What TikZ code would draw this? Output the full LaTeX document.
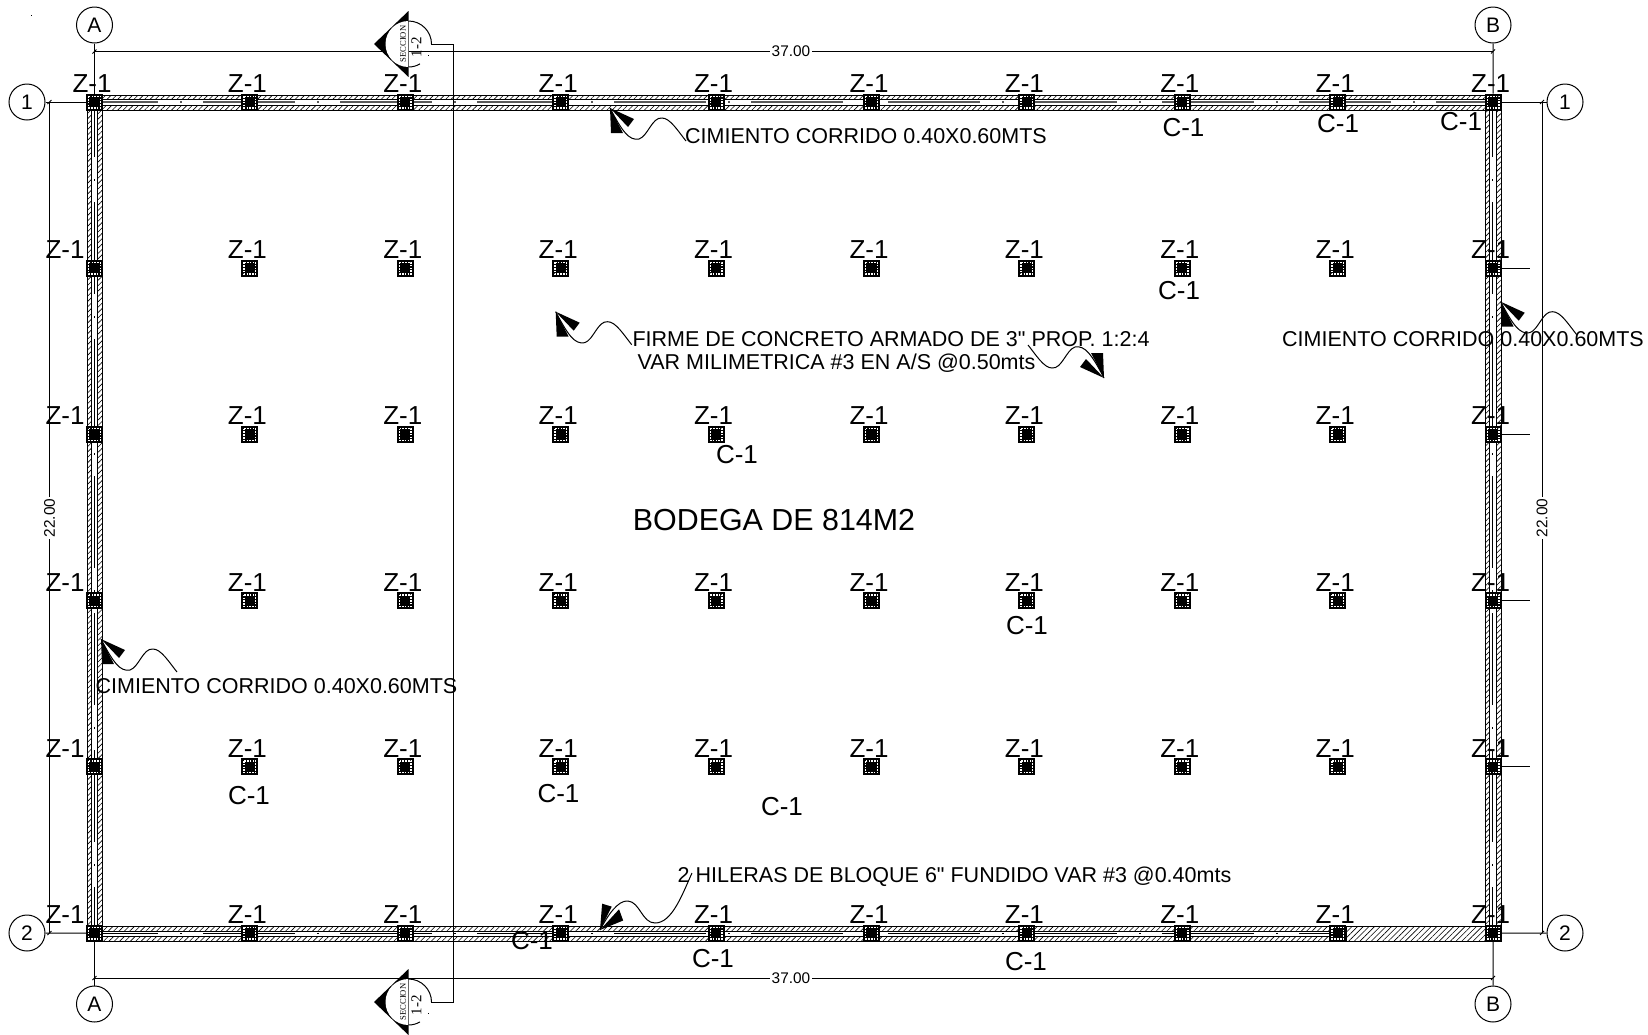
\documentclass[tikz,border=0pt]{standalone}
\usepackage{fontspec}
\setmainfont[Ligatures=TeXOff]{Liberation Sans}
\newfontfamily\seccfont{Liberation Serif}
\usetikzlibrary{patterns.meta}
\tikzset{
    thinline/.style={line width=0.5pt},
    hatchband/.style={draw=black,line width=0.5pt,pattern={Lines[angle=45,distance=1.9pt,line width=0.3pt]}},
    walldash/.style={line width=0.8pt,black!65,dash pattern=on 46pt off 11pt on 1pt off 10.5pt,dash phase=18.5pt},
    zapata/.style={draw=black,fill=black,line width=0.7pt,minimum size=7.8pt,inner sep=0pt},
    zring/.style={white,line width=0.7pt,dash pattern=on 0.8pt off 0.6pt},
    grideje/.style={circle,draw=black,line width=0.5pt,fill=white,minimum size=18pt,inner sep=0pt,font=\fontsize{10.5}{12}\selectfont},
    cotatext/.style={fill=white,inner sep=1pt,font=\fontsize{7.7}{9}\selectfont},
    zlabel/.style={inner sep=0pt,font=\fontsize{13}{15}\selectfont},
    notatext/.style={inner sep=0pt,font=\fontsize{10.75}{12}\selectfont}
}
% cabeza de flecha de nota
\newcommand{\notahead}[3]{
    \begin{scope}[shift={(#1,#2)},rotate=#3]
        \fill (0,0) -- (24,11) -- (18,19) -- cycle;
        \fill (0,0) -- (1,25) -- (13,25) -- cycle;
    \end{scope}
}
% flecha con onda: punta en (#1,#2), girada #3
\newcommand{\notaflecha}[3]{
    \notahead{#1}{#2}{#3}
    \begin{scope}[shift={(#1,#2)},rotate=#3]
        \draw[thinline] (0,0) .. controls (12,23) and (19,33) .. (29,31) .. controls (38,28) and (42,9) .. (52,10) .. controls (60,10) and (68,23) .. (76,33);
    \end{scope}
}
% marca de seccion: centro en (#1,#2)
\newcommand{\seccmark}[2]{
    \fill (#1-34.5,#2) -- (#1,#2-33) -- (#1,#2+33) -- cycle;
    \fill[white] (#1,#2-23) arc (-90:-270:23) -- cycle;
    \draw[thinline,black!60] (#1,#2-23) -- (#1,#2+23);
    \draw[thinline] (#1,#2-23) arc (-90:0:23);
    \draw[thinline] (#1,#2+23) arc (90:60:23);
    \node[rotate=90,inner sep=0pt,font=\seccfont\fontsize{4.3}{5}\selectfont] (secc#2) at (#1-5.5,#2) {SECCION};
    \node[rotate=90,inner sep=0pt,font=\seccfont\fontsize{7.5}{9}\selectfont] (num#2) at (#1+8,#2+3) {1-2};
    \fill (#1+19.5,#2+10.5) rectangle +(1,1);
}

\begin{document}
\begin{tikzpicture}[x=0.5pt,y=-0.5pt]
    \useasboundingbox (0,0) rectangle (1648,1034);

    % Muros
    \draw[hatchband] (87,95) rectangle (1501,99.5);
    \draw[hatchband] (87,105.5) rectangle (1501,110);
    \draw[hatchband] (87,926) rectangle (1346,931);
    \draw[hatchband] (87,936) rectangle (1346,941);
    \draw[draw=black,line width=0.5pt,pattern={Lines[angle=45,distance=2pt,line width=0.3pt]}] (1346,926) rectangle (1485,941);
    \draw[hatchband] (87,95) rectangle (91.5,941);
    \draw[hatchband] (97.5,110) rectangle (102,926);
    \draw[hatchband] (1485,110) rectangle (1489.5,926);
    \draw[hatchband] (1496.5,95) rectangle (1501,941);
    \draw[walldash] (103,102) -- (1485,102);
    \draw[walldash,black,line width=0.5pt] (103,933) -- (1346,933);
    \draw[walldash,black,line width=0.5pt] (94.5,102) -- (94.5,926);
    \draw[walldash,black,line width=0.5pt] (1492.5,102) -- (1492.5,926);

    % Ejes
    \node[grideje] (ejeA) at (94.5,25) {A};
    \node[grideje] (ejeB) at (1493,25) {B};
    \node[grideje] (ejeAb) at (94.5,1004) {A};
    \node[grideje] (ejeBb) at (1493,1004) {B};
    \node[grideje] (eje1) at (27,102) {1};
    \node[grideje] (eje2) at (27,933) {2};
    \node[grideje] (eje1b) at (1565,102) {1};
    \node[grideje] (eje2b) at (1565,933) {2};

    % Zapatas
    \foreach \j in {0,...,5} {
        \foreach \i in {0,...,9} {
            \pgfmathsetmacro{\cx}{94.5+155.4*\i}
            \pgfmathsetmacro{\cy}{102+166.2*\j}
            \pgfmathsetmacro{\lx}{\i==0 ? (\j==0 ? 92 : 65) : \cx-2.5}
            \node[zapata] (z\i\j) at (\cx,\cy) {};
            \draw[zring] (\cx-5.8,\cy-5.8) rectangle (\cx+5.8,\cy+5.8);
            \node[zlabel] (zl\i\j) at (\lx,\cy-18.5) {Z-1};
        }
    }

    % Cotas
    \draw[thinline] (ejeA) -- (z00);
    \draw[thinline] (ejeB) -- (z90);
    \draw[thinline] (ejeAb) -- (z05);
    \draw[thinline] (ejeBb) -- (z95);
    \draw[thinline] (eje1) -- (z00);
    \draw[thinline] (eje2) -- (z05);
    \draw[thinline] (eje1b) -- (z90);
    \draw[thinline] (eje2b) -- (z95);
    \draw[thinline] (94.5,51.5) -- (1493,51.5);
    \draw[thinline] (94.5,978) -- (1493,978);
    \draw[thinline] (49.5,102) -- (49.5,933);
    \draw[thinline] (1542,102) -- (1542,933);
    \foreach \tx/\ty in {94.5/51.5,1493/51.5,94.5/978,1493/978,49.5/102,49.5/933,1542/102,1542/933} {
        \draw[thinline] (\tx-2,\ty+2) -- (\tx+2,\ty-2);
    }
    \node[cotatext] (cotaT) at (791,51.5) {37.00};
    \node[cotatext] (cotaB) at (791,978) {37.00};
    \node[cotatext,rotate=90] (cotaL) at (49.5,518) {22.00};
    \node[cotatext,rotate=90] (cotaR) at (1542,518) {22.00};
    \foreach \j in {1,...,4} {
        \draw[thinline] (z9\j) -- +(37,0);
    }

    % Linea de seccion
    \draw[thinline] (431,44) -- (453.5,44) -- (453.5,1002) -- (431,1002);
    \seccmark{408.5}{44}
    \seccmark{408.5}{1002}

    % Notas
    \node[notatext] (nota1) at (866,136) {CIMIENTO CORRIDO 0.40X0.60MTS};
    \node[notatext] (nota2) at (276.5,686.5) {CIMIENTO CORRIDO 0.40X0.60MTS};
    \node[notatext] (nota3) at (1463,339.5) {CIMIENTO CORRIDO 0.40X0.60MTS};
    \node[notatext] (nota4) at (891,339) {FIRME DE CONCRETO ARMADO DE 3" PROP. 1:2:4};
    \node[notatext] (nota5) at (836.5,363) {VAR MILIMETRICA \#3 EN A/S @0.50mts};
    \node[notatext] (nota6) at (954.5,876.5) {2 HILERAS DE BLOQUE 6" FUNDIDO VAR \#3 @0.40mts};
    \node[inner sep=0pt,font=\fontsize{15.2}{18}\selectfont] (bodega) at (774,520) {BODEGA DE 814M2};

    % Columnas C-1
    \foreach \cx/\cy [count=\n] in {1183.5/128,1338/124,1461/122,1179/291,737/455,1027/626,249/796,558.5/794,782/807,532/941,713/959,1026/962} {
        \node[zlabel] (col\n) at (\cx,\cy) {C-1};
    }

    % Flechas
    \notaflecha{610}{108}{0}
    \notaflecha{555.7}{311.7}{0}
    \notaflecha{1104}{378}{180}
    \notaflecha{1500.7}{301.7}{0}
    \notaflecha{101}{639}{0}
    \notahead{600}{930}{110}
    \draw[thinline] (600,930) .. controls (608,915) and (618,900) .. (628,901) .. controls (640,902) and (642,923) .. (655,923) .. controls (672,923) and (682,895) .. (692,873);

    % Marca suelta
    \fill (30.5,14.5) rectangle (31.5,16);
\end{tikzpicture}
\end{document}
